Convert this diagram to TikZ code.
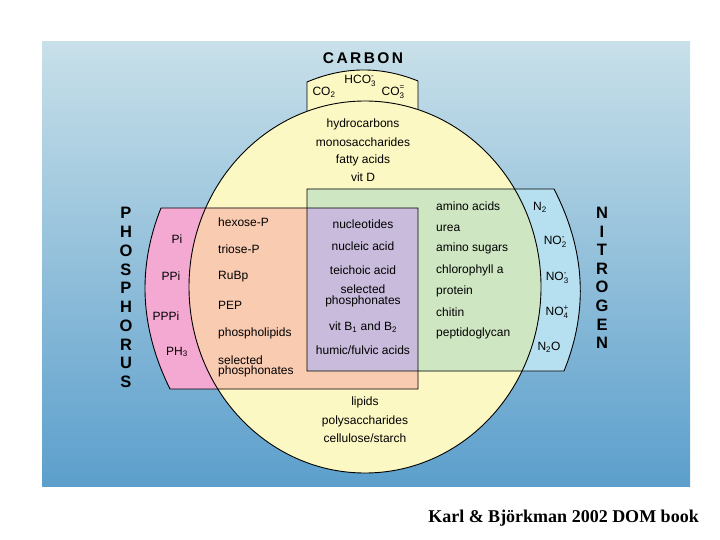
\documentclass[tikz,border=0pt]{standalone}
\usepackage{fontspec}
\setmainfont{Liberation Sans}
\newfontfamily\capfont{Liberation Serif Bold}
\newfontfamily\hvb{Liberation Sans Bold}
\definecolor{bgtop}{HTML}{C8E0E9}
\definecolor{bgbot}{HTML}{5C9FCC}
\definecolor{yel}{HTML}{FCF8C3}
\definecolor{peach}{HTML}{F9CBB1}
\definecolor{pinkc}{HTML}{F4A9D3}
\definecolor{purp}{HTML}{C8BBDC}
\definecolor{grn}{HTML}{CFE6C3}
\definecolor{lblue}{HTML}{B6E0EF}
\newcommand\sbsp[2]{\raisebox{-3.2pt}{\shortstack[l]{\fontsize{8}{6.5}\selectfont #2\\\fontsize{8}{6.5}\selectfont #1}}}
\tikzset{
  lbl/.style={font=\fontsize{12}{13}\selectfont, inner sep=0pt},
  lblL/.style={lbl, anchor=west},
  bigletter/.style={font=\hvb\fontsize{16.5}{16.5}\selectfont, inner sep=0pt},
  outline/.style={draw=black, line width=0.9pt},
}
\begin{document}
\begin{tikzpicture}[x=1pt,y=-1pt]
\useasboundingbox (0,0) rectangle (720,540);
\shade[top color=bgtop, bottom color=bgbot] (42,42) rectangle (690,486);
% carbon box on top
\path[fill=yel, outline] (307,118) -- (307,82) .. controls (344,66.3) and (381,66) .. (418,81) -- (418,118);
% carbon ellipse
\fill[yel] (365,287) ellipse [x radius=176pt, y radius=186pt];
% phosphorus and nitrogen shapes
\fill[pinkc] (418,208) -- (161,208) .. controls (137,268) and (140,328.3) .. (170,389) -- (418,389) -- cycle;
\fill[lblue] (307,189) -- (554,189) .. controls (585.3,249.7) and (588.7,310.3) .. (564,371) -- (307,371) -- cycle;
\begin{scope}
\clip (365,287) ellipse [x radius=176pt, y radius=186pt];
\fill[peach] (418,208) -- (161,208) .. controls (137,268) and (140,328.3) .. (170,389) -- (418,389) -- cycle;
\fill[grn] (307,189) -- (554,189) .. controls (585.3,249.7) and (588.7,310.3) .. (564,371) -- (307,371) -- cycle;
\end{scope}
\fill[purp] (307,208) rectangle (418,371);
% outlines
\draw[outline] (365,287) ellipse [x radius=176pt, y radius=186pt];
\draw[outline] (418,208) -- (161,208) .. controls (137,268) and (140,328.3) .. (170,389) -- (418,389) -- cycle;
\draw[outline] (307,189) -- (554,189) .. controls (585.3,249.7) and (588.7,310.3) .. (564,371) -- (307,371) -- cycle;
% CARBON
\node[inner sep=0pt, font=\hvb\fontsize{15.5}{16}\selectfont] (carbon) at (363,58) {C\kern2.4pt A\kern2.4pt R\kern2.4pt B\kern2.4pt O\kern2.4pt N};
\node[lbl] (hco3) at (360,81) {HCO\sbsp{3}{-}};
\node[lbl] (co2) at (324,92) {CO\textsubscript{2}};
\node[lbl] (co3) at (393,92) {CO\sbsp{3}{=}};
\node[lbl] (c1) at (363,124) {hydrocarbons};
\node[lbl] (c2) at (363,142) {monosaccharides};
\node[lbl] (c3) at (363,160) {fatty acids};
\node[lbl] (c4) at (363,177) {vit D};
\node[lbl] (c5) at (365,402) {lipids};
\node[lbl] (c6) at (365,421) {polysaccharides};
\node[lbl] (c7) at (365,438) {cellulose/starch};
% PHOSPHORUS
\foreach \l [count=\i from 0] in {P,H,O,S,P,H,O,R,U,S}
  \node[bigletter] (ph\i) at (126,213+18.78*\i) {\l};
% NITROGEN
\foreach \l [count=\i from 0] in {N,I,T,R,O,G,E,N}
  \node[bigletter] (ni\i) at (602,213+18.57*\i) {\l};
% pink
\node[lbl] (pi) at (177,239) {Pi};
\node[lbl] (ppi) at (171,276) {PPi};
\node[lbl] (pppi) at (166,316) {PPPi};
\node[lbl] (ph3) at (177,352) {PH\textsubscript{3}};
% peach
\node[lblL] (p1) at (218,222) {hexose-P};
\node[lblL] (p2) at (218,249) {triose-P};
\node[lblL] (p3) at (218,277) {RuBp};
\node[lblL] (p4) at (218,305) {PEP};
\node[lblL] (p5) at (218,333) {phospholipids};
\node[lblL, align=left] (p6) at (218,366.5) {selected\\[-2.5pt]phosphonates};
% purple
\node[lbl] (u1) at (363,224) {nucleotides};
\node[lbl] (u2) at (363,246) {nucleic acid};
\node[lbl] (u3) at (363,270) {teichoic acid};
\node[lbl, align=center] (u4) at (363,296) {selected\\[-2.5pt]phosphonates};
\node[lbl] (u5) at (363,327) {vit B\textsubscript{1} and B\textsubscript{2}};
\node[lbl] (u6) at (363,350) {humic/fulvic acids};
% green
\node[lblL] (g1) at (436,206) {amino acids};
\node[lblL] (g2) at (436,228) {urea};
\node[lblL] (g3) at (436,248) {amino sugars};
\node[lblL] (g4) at (436,270) {chlorophyll a};
\node[lblL] (g5) at (436,291) {protein};
\node[lblL] (g6) at (436,312) {chitin};
\node[lblL] (g7) at (436,333) {peptidoglycan};
% blue
\node[lbl] (n1) at (540,207) {N\textsubscript{2}};
\node[lbl] (n2) at (555,242) {NO\sbsp{2}{-}};
\node[lbl] (n3) at (557,278) {NO\sbsp{3}{-}};
\node[lbl] (n4) at (557,312) {NO\sbsp{4}{+}};
\node[lbl] (n5) at (549,347) {N\textsubscript{2}O};
% caption
\node[inner sep=0pt, font=\capfont\fontsize{18}{20}\selectfont] (cap) at (563.5,518) {Karl \& Björkman 2002 DOM book};
\end{tikzpicture}
\end{document}
